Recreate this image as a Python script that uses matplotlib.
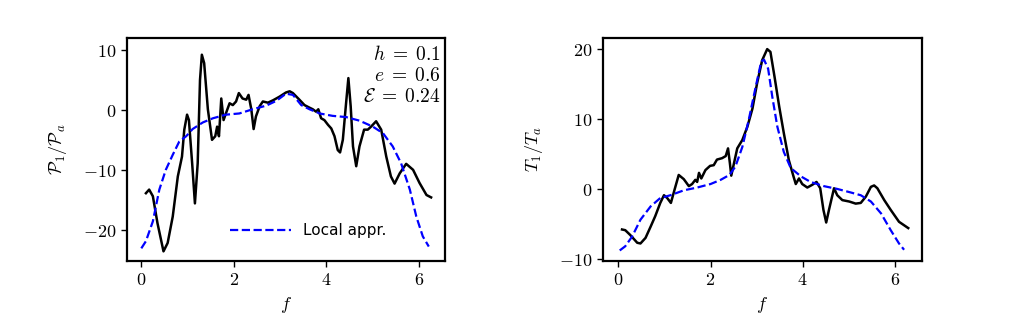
import matplotlib
matplotlib.use('Agg')
from matplotlib import pyplot as plt
from matplotlib.ticker import FuncFormatter
import numpy as np

plt.rcParams['mathtext.fontset'] = 'cm'
plt.rcParams['axes.linewidth'] = 1.6

# left panel: P1/Pa
f_p = [0.10, 0.17, 0.25, 0.35, 0.48, 0.57, 0.68, 0.79, 0.88, 0.93, 0.99, 1.03, 1.10, 1.16,
       1.22, 1.27, 1.31, 1.36, 1.44, 1.53, 1.60, 1.64, 1.68, 1.73, 1.78, 1.83, 1.91, 1.98,
       2.05, 2.11, 2.19, 2.27, 2.32, 2.38, 2.43, 2.48, 2.56, 2.63, 2.74, 2.85, 2.99, 3.13,
       3.21, 3.28, 3.42, 3.53, 3.63, 3.71, 3.78, 3.83, 3.89, 3.96, 4.04, 4.11, 4.18, 4.25,
       4.30, 4.36, 4.43, 4.48, 4.53, 4.58, 4.65, 4.72, 4.82, 4.90, 4.97, 5.08, 5.19, 5.30,
       5.40, 5.48, 5.59, 5.73, 5.88, 6.02, 6.17, 6.27]
p_num = [-13.9, -13.3, -14.4, -18.9, -23.6, -22.2, -17.8, -11.1, -7.8, -3.3, -0.8, -1.7, -8.9,
         -15.6, -8.9, 5.0, 9.2, 7.8, 0.1, -5.0, -4.4, -2.8, -4.4, 1.9, -1.7, -0.6, 1.1, 0.8,
         1.4, 2.8, 1.9, 1.7, 2.5, 0.1, -3.2, -1.1, 0.6, 1.4, 1.2, 1.6, 2.2, 2.9, 3.1, 2.8,
         1.7, 0.8, 0.4, 0.1, -0.3, 0.1, -1.4, -1.7, -2.5, -3.1, -4.4, -6.7, -7.1, -5.0, 1.1,
         5.3, 0.6, -6.1, -9.4, -6.1, -3.3, -3.3, -2.8, -1.9, -3.3, -7.8, -11.1, -12.3, -10.6,
         -9.0, -10.0, -12.2, -14.2, -14.6]
f_pl = [0.00, 0.10, 0.25, 0.39, 0.53, 0.68, 0.82, 0.97, 1.11, 1.33, 1.55, 1.83, 2.12, 2.41,
        2.70, 2.92, 3.13, 3.28, 3.46, 3.64, 3.86, 4.14, 4.43, 4.72, 5.01, 5.23, 5.44, 5.62,
        5.81, 5.95, 6.09, 6.22]
p_loc = [-23.1, -21.9, -18.6, -13.3, -10.0, -7.5, -5.3, -4.4, -3.2, -2.1, -1.4, -0.8, -0.6,
         0.1, 0.7, 1.5, 2.7, 2.5, 0.8, 0.1, -0.6, -1.0, -1.2, -1.8, -2.8, -3.9, -6.1, -8.9,
         -13.3, -17.8, -21.1, -22.8]

# right panel: T1/Ta
f_t = [0.08, 0.15, 0.26, 0.41, 0.48, 0.59, 0.70, 0.80, 0.91, 0.99, 1.06, 1.14, 1.22, 1.31,
       1.42, 1.53, 1.60, 1.67, 1.71, 1.75, 1.80, 1.89, 1.99, 2.07, 2.14, 2.25, 2.33, 2.38,
       2.42, 2.45, 2.51, 2.58, 2.69, 2.80, 2.91, 3.01, 3.12, 3.23, 3.30, 3.39, 3.49, 3.59,
       3.70, 3.80, 3.85, 3.92, 3.99, 4.10, 4.21, 4.30, 4.38, 4.45, 4.51, 4.57, 4.68, 4.75,
       4.86, 5.01, 5.15, 5.26, 5.37, 5.48, 5.55, 5.62, 5.77, 5.91, 6.09, 6.29]
t_num = [-5.8, -5.9, -6.6, -7.7, -7.8, -7.0, -5.4, -3.9, -2.0, -0.9, -1.3, -2.0, -0.1, 2.0,
         1.4, 0.4, 0.7, 1.3, 1.0, 2.3, 1.5, 2.7, 3.3, 3.4, 4.2, 4.4, 4.7, 5.8, 3.7, 1.9, 3.7,
         5.8, 7.0, 8.9, 11.5, 15.1, 18.4, 20.0, 19.6, 16.0, 11.8, 8.0, 4.1, 1.8, 0.7, 1.5,
         0.7, 0.2, 0.6, 1.0, 0.1, -3.0, -4.8, -3.0, 0.1, -0.9, -1.6, -1.8, -2.1, -2.0, -1.1,
         0.3, 0.5, 0.1, -1.6, -3.0, -4.7, -5.6]
f_tl = [0.03, 0.15, 0.30, 0.48, 0.70, 0.91, 1.13, 1.42, 1.71, 2.00, 2.22, 2.41, 2.54, 2.69,
        2.83, 2.98, 3.10, 3.16, 3.25, 3.34, 3.45, 3.59, 3.74, 3.96, 4.17, 4.46, 4.75, 5.04,
        5.26, 5.48, 5.70, 5.91, 6.09, 6.20]
t_loc = [-8.8, -8.2, -6.8, -4.4, -2.5, -1.3, -0.9, -0.2, 0.2, 0.7, 1.3, 2.0, 3.2, 6.0, 9.9,
         14.6, 18.2, 18.5, 17.2, 13.2, 8.9, 5.3, 3.0, 1.8, 1.0, 0.4, 0.0, -0.5, -0.9, -1.8,
         -3.5, -5.9, -7.8, -8.7]

x_ticks = [0, 2, 4, 6]
p_ticks = [-20, -10, 0, 10]
t_ticks = [-10, 0, 10, 20]

math_fmt = FuncFormatter(lambda v, pos: '$%d$' % v)


def style_axis(ax, yticks):
    ax.set_xticks(x_ticks)
    ax.set_yticks(yticks)
    ax.xaxis.set_major_formatter(math_fmt)
    ax.yaxis.set_major_formatter(math_fmt)
    ax.tick_params(labelsize=13, width=1.0, length=4)
    ax.set_xlabel('$f$', fontsize=13)


fig = plt.figure(figsize=(10.24, 3.27), dpi=100)
ax1 = fig.add_axes([0.124, 0.202, 0.311, 0.682])
ax2 = fig.add_axes([0.589, 0.202, 0.311, 0.682])

ax1.plot(f_p, p_num, color='black', lw=1.8)
ax1.plot(f_pl, p_loc, '--', color='blue', lw=1.6, label='Local appr.')
ax1.set_xlim(-0.31, 6.58)
ax1.set_ylim(-25.2, 12)
style_axis(ax1, p_ticks)
ax1.set_ylabel(r'$\mathcal{P}_1/\mathcal{P}_a$', fontsize=13, labelpad=10)
ax1.legend(loc='lower center', frameon=False, fontsize=11, handlelength=4,
           bbox_to_anchor=(0.57, 0.04))
ax1.text(0.985, 0.97, r'$h\;=\;0.1$' + '\n' + r'$e\;=\;0.6$' + '\n' + r'$\mathcal{E}\;=\;0.24$',
         transform=ax1.transAxes, ha='right', va='top', fontsize=14, linespacing=1.15,
         multialignment='right')

ax2.plot(f_t, t_num, color='black', lw=1.8)
ax2.plot(f_tl, t_loc, '--', color='blue', lw=1.6)
ax2.set_xlim(-0.33, 6.58)
ax2.set_ylim(-10.3, 21.6)
style_axis(ax2, t_ticks)
ax2.set_ylabel('$T_1/T_a$', fontsize=13, labelpad=10)

fig.savefig('out.png', dpi=100)
